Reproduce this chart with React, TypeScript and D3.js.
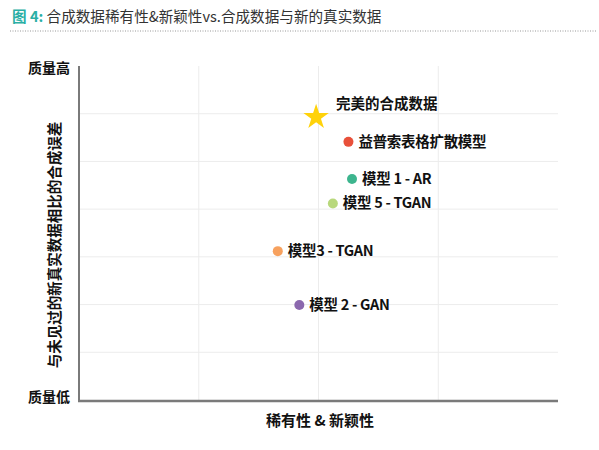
import React from "react";
import * as d3 from "d3";

const labels = ["完美的合成数据", "益普索表格扩散模型", "模型 1 - AR", "模型 5 - TGAN", "模型3 - TGAN", "模型 2 - GAN"];
const rarity = [1.98, 2.25, 2.28, 2.12, 1.66, 1.84];
const quality = [5.95, 5.41, 4.63, 4.12, 3.12, 1.99];
const colors = ["#FFD20A", "#E8503A", "#3DB58E", "#B8D87C", "#F7A15E", "#8B68AE"];
const yTickLabels = ["质量低", "质量高"];

const W = 599;
const H = 450;
const M = { left: 79, right: 558, top: 66, bottom: 400 };
const FONT = "'Noto Sans CJK SC', 'Noto Sans', sans-serif";

export default function App() {
  const x = d3.scaleLinear().domain([0, 4]).range([M.left, M.right]);
  const y = d3.scaleLinear().domain([0, 7]).range([M.bottom, M.top]);
  const star = d3.symbol(d3.symbolStar, 200)() as string;
  const xGrid = [1, 2, 3];
  const yGrid = [1, 2, 3, 4, 5, 6];

  return (
    <svg width={W} height={H} style={{ position: "absolute", left: 0, top: 0, background: "#fff" }} fontFamily={FONT}>
      <text x={12} y={22} fontSize={14.6}>
        <tspan fill="#2AAFA5" fontWeight="bold">图 4: </tspan>
        <tspan fill="#333">合成数据稀有性&amp;新颖性vs.合成数据与新的真实数据</tspan>
      </text>
      <line x1={10} x2={597} y1={31} y2={31} stroke="#999" strokeWidth={1} strokeDasharray="1,1.5" />

      {xGrid.map((g) => (
        <line key={"xg" + g} x1={x(g)} x2={x(g)} y1={M.top} y2={M.bottom} stroke="#ececec" strokeWidth={1} />
      ))}
      {yGrid.map((g) => (
        <line key={"yg" + g} x1={M.left} x2={M.right} y1={y(g)} y2={y(g)} stroke="#ececec" strokeWidth={1} />
      ))}

      <line x1={M.left} x2={M.left} y1={M.top} y2={M.bottom + 1} stroke="#7a7a7a" strokeWidth={2} />
      <line x1={M.left - 1} x2={M.right} y1={M.bottom + 1} y2={M.bottom + 1} stroke="#7a7a7a" strokeWidth={2.5} />

      <text x={70} y={y(7) + 7} fontSize={14} fontWeight="bold" textAnchor="end" fill="#111">{yTickLabels[1]}</text>
      <text x={70} y={y(0) + 2} fontSize={14} fontWeight="bold" textAnchor="end" fill="#111">{yTickLabels[0]}</text>

      <text
        transform={`translate(60,245) rotate(-90)`}
        fontSize={14.5}
        fontWeight="bold"
        textAnchor="middle"
        fill="#111"
      >
        与未见过的新真实数据相比的合成误差
      </text>

      <text x={320} y={426} fontSize={15} fontWeight="bold" textAnchor="middle" fill="#111">
        稀有性 &amp; 新颖性
      </text>

      {labels.map((l, i) => {
        const cx = x(rarity[i]);
        const cy = y(quality[i]);
        if (i === 0) {
          return (
            <g key={l}>
              <path d={star} transform={`translate(${cx},${cy + 1})`} fill={colors[i]} />
              <text x={cx + 20} y={cy - 7} fontSize={14.5} fontWeight="bold" fill="#111">{l}</text>
            </g>
          );
        }
        return (
          <g key={l}>
            <circle cx={cx} cy={cy} r={5} fill={colors[i]} />
            <text x={cx + 10} y={cy + 5} fontSize={14.5} fontWeight="bold" fill="#111" letterSpacing={-0.3}>{l}</text>
          </g>
        );
      })}
    </svg>
  );
}
